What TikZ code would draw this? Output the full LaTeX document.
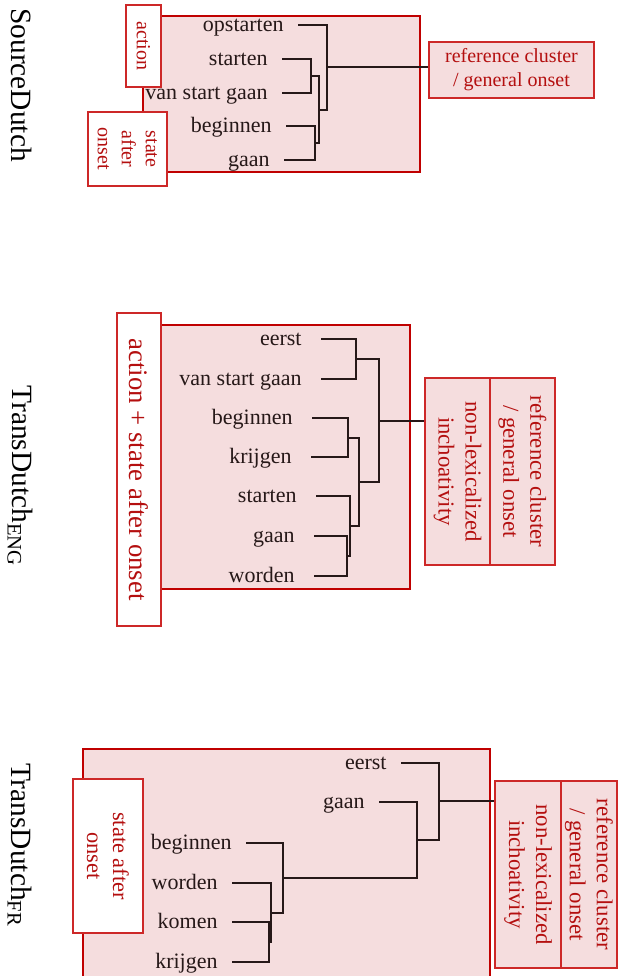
\documentclass[tikz,border=0pt]{standalone}
\usepackage{fontspec}
\setmainfont{Liberation Serif}
\usetikzlibrary{positioning,calc}
\definecolor{clusterred}{RGB}{192,0,0}
\definecolor{tagred}{RGB}{205,40,40}
\definecolor{inkred}{RGB}{180,15,15}
\definecolor{panefill}{RGB}{245,221,222}
\definecolor{wordink}{RGB}{38,24,24}
\begin{document}
\begin{tikzpicture}[
    x=0.5pt, y=-0.5pt,
    pane/.style={draw=clusterred, line width=1.2pt, fill=panefill},
    senselabel/.style={draw=tagred, line width=0.7pt, fill=white, text=inkred,
                       rotate=-90, align=center, inner sep=0pt},
    refbox/.style={draw=tagred, line width=0.7pt, fill=panefill, text=inkred,
                   align=center, inner sep=0pt},
    leaf/.style={anchor=east, inner xsep=7pt, inner ysep=0pt, text=wordink,
                 font=\fontsize{11}{13}\selectfont, text height=1.6ex, text depth=0.25ex},
    dendro/.style={draw=wordink, line width=1pt},
    corpus/.style={rotate=-90, font=\fontsize{14.7}{17}\selectfont}
]
\useasboundingbox (0,0) rectangle (618,976);

% SourceDutch
\node[corpus] (src) at (22,85) {SourceDutch};
\draw[pane] (143,16) rectangle (420,172);
\node[senselabel, minimum width=41pt, minimum height=17.5pt,
      font=\fontsize{10}{12}\selectfont] (srcact) at (143.5,46) {action};
\node[senselabel, minimum width=37pt, minimum height=39.5pt,
      font=\fontsize{10}{12}\selectfont] (srcstate) at (127.5,149) {state\\after\\onset};
\node[refbox, minimum width=82.5pt, minimum height=28pt,
      font=\fontsize{10}{12}\selectfont] (srcref) at (511.5,70) {reference cluster\\/ general onset};

\node[leaf] (s-opst)  at (298,25)  {opstarten};
\node[leaf] (s-start) at (282,59)  {starten};
\node[leaf] (s-vsg)   at (282,93)  {van start gaan};
\node[leaf] (s-begin) at (286,126) {beginnen};
\node[leaf] (s-gaan)  at (284,160) {gaan};

\coordinate (s1) at (311,76);
\coordinate (s2) at (315,143);
\coordinate (s3) at (319,109.5);
\coordinate (s4) at (327,67);
\draw[dendro] (s-start.east) -| (s1) |- (s-vsg.east);
\draw[dendro] (s-begin.east) -| (s2) |- (s-gaan.east);
\draw[dendro] (s1) -| (s3) |- (s2);
\draw[dendro] (s-opst.east) -| (s4) |- (s3);
\draw[dendro] (s4) -- (s4 -| srcref.west);

% TransDutch ENG
\node[corpus] (eng) at (20,476) {TransDutch\textsubscript{ENG}};
\draw[pane] (161,325) rectangle (410,589);
\node[senselabel, minimum width=156.5pt, minimum height=22pt,
      font=\fontsize{13.4}{16}\selectfont] (engtag) at (139,469.5) {action + state after onset};
\node[refbox, rotate=-90, minimum width=93.5pt, minimum height=32.5pt,
      font=\fontsize{11.4}{13.5}\selectfont] (engref) at (522.5,471.5) {reference cluster\\/ general onset};
\node[refbox, rotate=-90, minimum width=93.5pt, minimum height=32.5pt,
      font=\fontsize{11.4}{13.5}\selectfont] (engnon) at (457.5,471.5) {non-lexicalized\\inchoativity};

\begin{scope}[leaf/.append style={inner xsep=9.5pt}]
\node[leaf] (e-eerst) at (321,339) {eerst};
\node[leaf] (e-vsg)   at (321,379) {van start gaan};
\node[leaf] (e-begin) at (312,418) {beginnen};
\node[leaf] (e-krij)  at (311,457) {krijgen};
\node[leaf] (e-start) at (316,496) {starten};
\node[leaf] (e-gaan)  at (314,536) {gaan};
\node[leaf] (e-word)  at (314,576) {worden};
\end{scope}

\coordinate (e1) at (356,359);
\coordinate (e2) at (348,437.5);
\coordinate (e3) at (347,556);
\coordinate (e4) at (350,526);
\coordinate (e5) at (359,481.75);
\coordinate (e6) at (379,420.5);
\draw[dendro] (e-eerst.east) -| (e1) |- (e-vsg.east);
\draw[dendro] (e-begin.east) -| (e2) |- (e-krij.east);
\draw[dendro] (e-gaan.east) -| (e3) |- (e-word.east);
\draw[dendro] (e-start.east) -| (e4) |- (e3);
\draw[dendro] (e2) -| (e5) |- (e4);
\draw[dendro] (e1) -| (e6) |- (e5);
\draw[dendro] (e6) -- (e6 -| engnon.south);

% TransDutch FR
\node[corpus] (fr) at (20,845) {TransDutch\textsubscript{FR}};
\draw[pane] (83,749) rectangle (490,1000);
\node[senselabel, minimum width=77pt, minimum height=35pt,
      font=\fontsize{11.2}{13}\selectfont] (frtag) at (108,856) {state after\\onset};
\node[refbox, rotate=-90, minimum width=93.5pt, minimum height=28pt,
      font=\fontsize{11.4}{13.5}\selectfont] (frref) at (589,874.5) {reference cluster\\/ general onset};
\node[refbox, rotate=-90, minimum width=93.5pt, minimum height=33pt,
      font=\fontsize{11.4}{13.5}\selectfont] (frnon) at (528,874.5) {non-lexicalized\\inchoativity};

\node[leaf] (f-eerst) at (401,763) {eerst};
\node[leaf] (f-gaan)  at (379,802) {gaan};
\node[leaf] (f-begin) at (246,843) {beginnen};
\node[leaf] (f-word)  at (232,883) {worden};
\node[leaf] (f-komen) at (232,922) {komen};
\node[leaf] (f-krij)  at (232,962) {krijgen};

\coordinate (f1) at (269,942);
\coordinate (f2) at (271,912.5);
\coordinate (f3) at (283,877.75);
\coordinate (f4) at (417,839.9);
\coordinate (f5) at (439,801.4);
\draw[dendro] (f-komen.east) -| (f1) |- (f-krij.east);
\draw[dendro] (f-word.east) -| (f2) |- (f1);
\draw[dendro] (f-begin.east) -| (f3) |- (f2);
\draw[dendro] (f-gaan.east) -| (f4) |- (f3);
\draw[dendro] (f-eerst.east) -| (f5) |- (f4);
\draw[dendro] (f5) -- (f5 -| frnon.south);
\end{tikzpicture}
\end{document}
